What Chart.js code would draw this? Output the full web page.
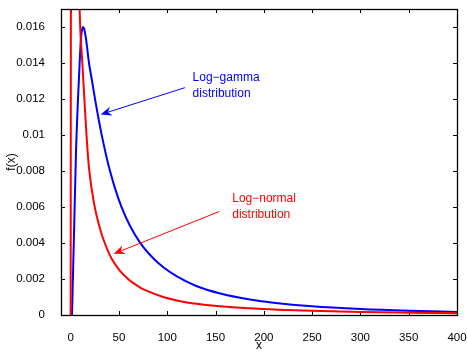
<!DOCTYPE html>
<html>
<head>
<meta charset="utf-8">
<script src="https://cdn.jsdelivr.net/npm/chart.js@4/dist/chart.umd.min.js"></script>
<style>
  html, body { margin: 0; padding: 0; background: #fff; }
  #wrap { width: 467px; height: 353px; }
</style>
</head>
<body>
<div id="wrap"><canvas id="c" width="467" height="353"></canvas></div>
<script>
// Log-gamma density, f(x)
const gammaX = [1.4, 3.5, 5.5, 7.6, 9.3, 10.7, 12, 12.8, 14, 16, 19, 22, 25.6, 29, 32.5, 37, 40.5, 46, 52.6, 61, 72, 85, 96, 110, 130, 155, 184, 210, 250, 300, 350, 400];
const gammaY = [0, 0.0046, 0.0090, 0.0120, 0.0140, 0.0154, 0.0159, 0.0160, 0.0159, 0.0153, 0.0140, 0.01305, 0.01188, 0.01086, 0.00991, 0.00881, 0.00805, 0.00702, 0.00601, 0.0050, 0.00401, 0.00318, 0.00265, 0.00214, 0.00161, 0.00119, 0.00087, 0.00068, 0.00048, 0.00033, 0.000234, 0.00017];

// Log-normal density, f(x) (its peak lies above the plotted range)
const normalX = [0, 0.6, 3, 8, 9.3, 10.4, 12.1, 14.2, 16.4, 19, 24.2, 31, 35.3, 42.2, 50, 60, 71.6, 78.5, 95.8, 110, 130, 155, 184, 215, 250, 300, 350, 400];
const normalY = [0, 0.040, 0.060, 0.021, 0.017, 0.0154, 0.0140, 0.0120, 0.0100, 0.00816, 0.0062, 0.00468, 0.0040, 0.00315, 0.00252, 0.00197, 0.00154, 0.00135, 0.0010, 0.00081, 0.00062, 0.00048, 0.00037, 0.00029, 0.00023, 0.000167, 0.000129, 0.00010];

const xTickValues = [0, 50, 100, 150, 200, 250, 300, 350, 400];
const xTickLabels = ['0', '50', '100', '150', '200', '250', '300', '350', '400'];
const yTickValues = [0, 0.002, 0.004, 0.006, 0.008, 0.010, 0.012, 0.014, 0.016];
const yTickLabels = ['0', '0.002', '0.004', '0.006', '0.008', '0.01', '0.012', '0.014', '0.016'];

const xLimits = [-10, 400];
const yLimits = [0, 0.017];

// Callout text and arrows, in data coordinates
const gammaNoteText = ['Log\u2212gamma', 'distribution'];
const gammaNoteAt = [126.2, 0.01298];
const gammaArrowFrom = [118.3, 0.01263];
const gammaArrowTo = [31.1, 0.01114];

const normalNoteText = ['Log\u2212normal', 'distribution'];
const normalNoteAt = [167.3, 0.00627];
const normalArrowFrom = [153.9, 0.00575];
const normalArrowTo = [44.6, 0.0034];

const BLUE = '#0000ff';
const RED = '#ff0000';
const FONT = "'Liberation Sans', Arial, Helvetica, sans-serif";

function toPoints(xs, ys) {
  return xs.map((v, i) => ({ x: v, y: ys[i] }));
}

function drawArrow(ctx, x0, y0, x1, y1, color) {
  const dx = x1 - x0, dy = y1 - y0;
  const len = Math.hypot(dx, dy);
  const ux = dx / len, uy = dy / len;
  const nx = -uy, ny = ux;
  const L = 11, W = 4.5, notch = 3.5;
  const bx = x1 - L * ux, by = y1 - L * uy;
  const mx = x1 - (L - notch) * ux, my = y1 - (L - notch) * uy;
  ctx.strokeStyle = color;
  ctx.fillStyle = color;
  ctx.lineWidth = 1;
  ctx.beginPath();
  ctx.moveTo(x0, y0);
  ctx.lineTo(mx, my);
  ctx.stroke();
  ctx.beginPath();
  ctx.moveTo(x1, y1);
  ctx.lineTo(bx + W * nx, by + W * ny);
  ctx.lineTo(mx, my);
  ctx.lineTo(bx - W * nx, by - W * ny);
  ctx.closePath();
  ctx.fill();
}

const frameAndNotes = {
  id: 'frameAndNotes',
  beforeDatasetsDraw(chart) {
    const { ctx, chartArea: a, scales: { x, y } } = chart;
    ctx.save();
    ctx.strokeStyle = '#000';
    ctx.lineWidth = 1;
    const tick = 4;
    ctx.beginPath();
    xTickValues.forEach(v => {
      const px = Math.round(x.getPixelForValue(v)) + 0.5;
      ctx.moveTo(px, a.bottom); ctx.lineTo(px, a.bottom - tick);
      ctx.moveTo(px, a.top); ctx.lineTo(px, a.top + tick);
    });
    yTickValues.forEach(v => {
      const py = Math.round(y.getPixelForValue(v)) + 0.5;
      ctx.moveTo(a.left, py); ctx.lineTo(a.left + tick, py);
      ctx.moveTo(a.right, py); ctx.lineTo(a.right - tick, py);
    });
    ctx.stroke();
    ctx.restore();
  },
  afterDatasetsDraw(chart) {
    const { ctx, chartArea: a, scales: { x, y } } = chart;
    ctx.save();
    // axes box
    ctx.strokeStyle = '#000';
    ctx.lineWidth = 1.3;
    ctx.strokeRect(Math.round(a.left) + 0.5, Math.round(a.top) + 0.5,
                   Math.round(a.right - a.left), Math.round(a.bottom - a.top));

    const notes = [
      { text: gammaNoteText, at: gammaNoteAt, from: gammaArrowFrom, to: gammaArrowTo, color: BLUE },
      { text: normalNoteText, at: normalNoteAt, from: normalArrowFrom, to: normalArrowTo, color: RED }
    ];
    notes.forEach(n => {
      drawArrow(ctx,
        x.getPixelForValue(n.from[0]), y.getPixelForValue(n.from[1]),
        x.getPixelForValue(n.to[0]), y.getPixelForValue(n.to[1]), n.color);
      ctx.fillStyle = n.color;
      ctx.font = '12px ' + FONT;
      ctx.textAlign = 'left';
      ctx.textBaseline = 'alphabetic';
      const tx = x.getPixelForValue(n.at[0]);
      const ty = y.getPixelForValue(n.at[1]);
      n.text.forEach((line, i) => ctx.fillText(line, tx, ty + i * 15.5));
    });
    ctx.restore();
  }
};

new Chart(document.getElementById('c'), {
  type: 'line',
  data: {
    datasets: [
      {
        label: 'Log-normal',
        data: toPoints(normalX, normalY),
        borderColor: RED,
        borderWidth: 2,
        pointRadius: 0,
        fill: false,
        cubicInterpolationMode: 'monotone'
      },
      {
        label: 'Log-gamma',
        data: toPoints(gammaX, gammaY),
        borderColor: BLUE,
        borderWidth: 2,
        pointRadius: 0,
        fill: false,
        cubicInterpolationMode: 'monotone'
      }
    ]
  },
  options: {
    responsive: false,
    animation: false,
    devicePixelRatio: 1,
    layout: { padding: { top: 9, right: 10, left: 0, bottom: 0 } },
    plugins: { legend: { display: false }, tooltip: { enabled: false } },
    scales: {
      x: {
        type: 'linear',
        min: xLimits[0],
        max: xLimits[1],
        afterBuildTicks(scale) { scale.ticks = xTickValues.map(v => ({ value: v })); },
        afterFit(scale) { scale.height = 38; scale.paddingLeft = 0; scale.paddingRight = 0; },
        grid: { display: false },
        border: { display: false },
        ticks: {
          padding: 8,
          color: '#000',
          font: { family: FONT, size: 11.5 },
          maxRotation: 0,
          autoSkip: false,
          callback: (v) => xTickLabels[xTickValues.indexOf(v)] ?? ''
        },
        title: {
          display: true,
          text: 'x',
          color: '#000',
          font: { family: FONT, size: 12 },
          padding: { top: 0, bottom: 0 }
        }
      },
      y: {
        type: 'linear',
        min: yLimits[0],
        max: yLimits[1],
        afterBuildTicks(scale) { scale.ticks = yTickValues.map(v => ({ value: v })); },
        afterFit(scale) { scale.width = 61; scale.paddingTop = 0; scale.paddingBottom = 0; },
        grid: { display: false },
        border: { display: false },
        ticks: {
          padding: 8,
          color: '#000',
          font: { family: FONT, size: 11.5 },
          autoSkip: false,
          callback: (v) => {
            const i = yTickValues.findIndex(t => Math.abs(t - v) < 1e-9);
            return i >= 0 ? yTickLabels[i] : '';
          }
        },
        title: {
          display: true,
          text: 'f(x)',
          color: '#000',
          font: { family: FONT, size: 12 },
          padding: { top: 4, bottom: 0 }
        }
      }
    }
  },
  plugins: [frameAndNotes]
});
</script>
</body>
</html>
